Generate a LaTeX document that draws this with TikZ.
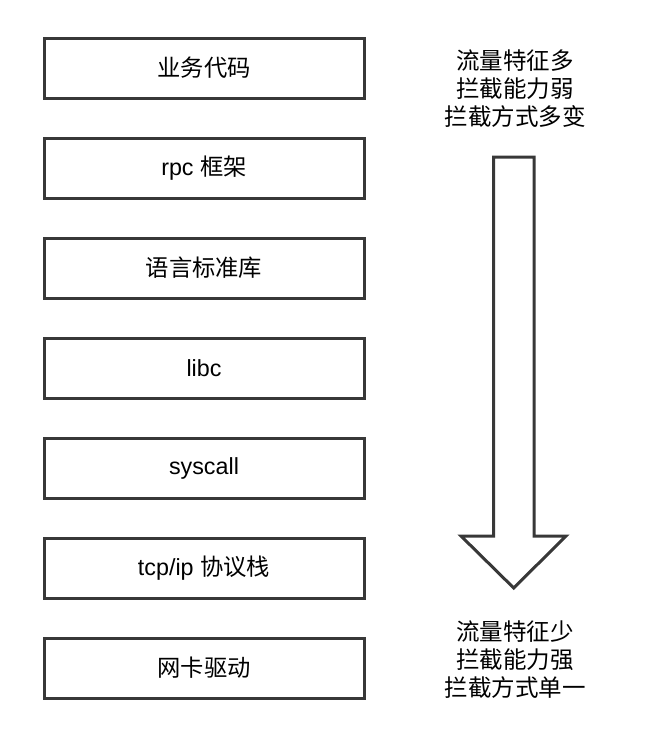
\documentclass[tikz,border=0pt]{standalone}
\usepackage{fontspec}
\setmainfont{Liberation Sans}
\newfontfamily\cjk{Noto Sans CJK SC}
\begin{document}
\begin{tikzpicture}[x=1pt,y=-1pt]
                  \tikzstyle{layer}=[draw=black!78, line width=3pt, minimum width=320pt, minimum height=60pt, inner sep=0pt, font=\fontsize{23.3}{28}\selectfont]
                  \tikzstyle{note}=[align=center, inner sep=0pt, font=\cjk\fontsize{23.5}{28}\selectfont]
                  \useasboundingbox (0,0) rectangle (668,732);
                  % layers, top to bottom
                  \node [layer] (biz) at (204,68) {\cjk 业务代码};
                  \node [layer] (rpc) at (204,168) {rpc {\cjk 框架}};
                  \node [layer] (stdlib) at (204,268) {\cjk 语言标准库};
                  \node [layer] (libc) at (204,368) {libc};
                  \node [layer] (syscall) at (204,468) {syscall};
                  \node [layer] (tcpip) at (204,568) {tcp/ip {\cjk 协议栈}};
                  \node [layer] (nic) at (204,668) {\cjk 网卡驱动};
                  % big arrow
                  \draw [draw=black!78, line width=3pt, miter limit=10] (493.5,157) -- (534,157) -- (534,536) -- (566,536) -- (513.75,588) -- (461,536) -- (493.5,536) -- cycle;
                  \node [note] (top) at (515,89) {流量特征多\\拦截能力弱\\拦截方式多变};
                  \node [note] (bottom) at (515,660) {流量特征少\\拦截能力强\\拦截方式单一};
\end{tikzpicture}
\end{document}
